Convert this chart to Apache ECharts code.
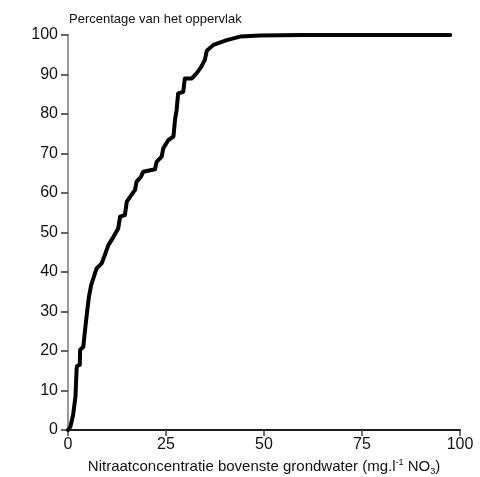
<!DOCTYPE html>
<html>
<head>
<meta charset="utf-8">
<script src="https://cdn.jsdelivr.net/npm/echarts@6/dist/echarts.min.js"></script>
<style>
html,body{margin:0;padding:0;background:#fff;}
#chart{width:480px;height:477px;}
</style>
</head>
<body>
<div id="chart"></div>
<script>
// Nitrate concentration (mg/l NO3) against cumulative share of area (%)
var nitrate = [0, 0.6, 1.3, 1.9, 2.2, 2.3, 3.0, 3.1, 3.9, 4.3, 4.8, 5.3, 5.9, 6.9, 7.3, 8.6, 9.4, 10.3, 11.6, 12.8, 13.3, 14.5, 15.0, 16.2, 17.1, 17.5, 18.6, 19.2, 22.2, 22.6, 23.9, 24.3, 25.6, 26.9, 27.3, 27.7, 28.1, 29.4, 29.8, 31.6, 32.8, 33.9, 34.9, 35.4, 37.1, 40.5, 43.9, 49.0, 60.0, 75.0, 97.5];
var areaPct = [0, 0.8, 3.8, 8.4, 15.5, 16.2, 16.5, 20.3, 21.0, 24.9, 29.3, 33.5, 36.7, 39.7, 40.9, 42.2, 44.3, 46.8, 48.9, 51.0, 54.0, 54.4, 57.8, 59.5, 60.8, 62.9, 64.1, 65.4, 66.0, 67.9, 69.2, 71.3, 73.4, 74.3, 78.5, 81.0, 85.2, 85.6, 89.0, 89.0, 90.3, 91.8, 93.7, 96.0, 97.5, 98.7, 99.6, 99.9, 100, 100, 100];
var xTicks = [0, 25, 50, 75, 100];
var yTicks = [0, 10, 20, 30, 40, 50, 60, 70, 80, 90, 100];

var points = nitrate.map(function (x, i) { return [x, areaPct[i]]; });
var font = '"Liberation Sans", Arial, sans-serif';

var chart = echarts.init(document.getElementById('chart'));
chart.setOption({
  animation: false,
  backgroundColor: '#fff',
  grid: { left: 68, right: 20, top: 35, bottom: 47, containLabel: false, outerBoundsMode: 'none' },
  title: {
    text: 'Percentage van het oppervlak',
    left: 64, top: 8,
    textStyle: { fontFamily: font, fontSize: 13, fontWeight: 'normal', color: '#111' }
  },
  xAxis: [{
    type: 'value', min: xTicks[0], max: xTicks[xTicks.length - 1], interval: 25,
    axisLine: { lineStyle: { color: '#444', width: 2 } },
    axisTick: { show: true, inside: false, length: 6, lineStyle: { color: '#444', width: 1.5 } },
    axisLabel: { fontFamily: font, fontSize: 16, color: '#111', margin: 7 },
    splitLine: { show: false },
    name: '{a|Nitraatconcentratie bovenste grondwater (mg.l}{sup|-1}{a| NO}{sub|3}{a|)}',
    nameLocation: 'middle', nameGap: 27,
    nameTextStyle: {
      rich: {
        a: { fontFamily: font, fontSize: 15, color: '#111' },
        sup: { fontFamily: font, fontSize: 9, color: '#111', padding: [0, 0, 9, 0] },
        sub: { fontFamily: font, fontSize: 9, color: '#111', padding: [9, 0, 0, 0] }
      }
    }
  }, {
    type: 'value', position: 'top', min: 0, max: 100,
    axisLine: { show: true, lineStyle: { color: '#111', width: 1.5 } },
    axisTick: { show: false }, axisLabel: { show: false }, splitLine: { show: false }
  }],
  yAxis: [{
    type: 'value', min: yTicks[0], max: yTicks[yTicks.length - 1], interval: 10,
    axisLine: { show: true, lineStyle: { color: '#777', width: 2 } },
    axisTick: { show: true, inside: false, length: 7, lineStyle: { color: '#333', width: 1.5 } },
    axisLabel: { fontFamily: font, fontSize: 16, color: '#111', margin: 10 },
    splitLine: { show: false }
  }, {
    type: 'value', position: 'right', min: 0, max: 100,
    axisLine: { show: true, lineStyle: { color: '#999', width: 2 } },
    axisTick: { show: false }, axisLabel: { show: false }, splitLine: { show: false }
  }],
  series: [{
    type: 'line',
    data: points,
    showSymbol: false,
    symbol: 'none',
    lineStyle: { color: '#000', width: 4, join: 'round', cap: 'round' },
    z: 5
  }]
});
</script>
</body>
</html>
